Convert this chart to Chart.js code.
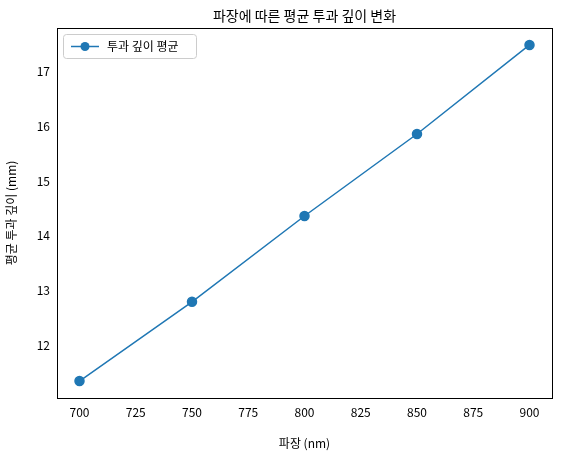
<!DOCTYPE html>
<html><head><meta charset="utf-8">
<script src="https://cdn.jsdelivr.net/npm/chart.js@4/dist/chart.umd.min.js"></script>
<style>html,body{margin:0;background:#fff}#w{width:561px;height:455px}</style>
</head><body><div id="w"><canvas id="c"></canvas></div>
<script>
const wavelengths=[700,750,800,850,900];
const depths=[11.34,12.79,14.36,15.86,17.49];
const xTicks=[700,725,750,775,800,825,850,875,900];
const yTicks=[12,13,14,15,16,17];
const seriesLabel='투과 깊이 평균';
const chartTitle='파장에 따른 평균 투과 깊이 변화';
const F="'Noto Sans CJK KR','Noto Sans',sans-serif";
Chart.defaults.font.family=F;Chart.defaults.color='#000';
const deco={id:'deco',afterDraw(c){
 const x=c.ctx,a=c.chartArea;x.save();
 x.strokeStyle='#000';x.lineWidth=1;x.strokeRect(a.left+0.5,a.top+0.5,a.right-a.left,a.bottom-a.top);
 x.font='14px '+F;x.fillStyle='#000';x.textAlign='center';x.textBaseline='middle';
 x.fillText(chartTitle,(a.left+a.right)/2,16);
 // legend
 const lx=a.left+6,ly=a.top+6,w=133,h=24;
 x.strokeStyle='#ccc';x.fillStyle='rgba(255,255,255,0.8)';
 x.beginPath();x.roundRect(lx+0.5,ly+0.5,w,h,3);x.fill();x.stroke();
 const cy=ly+h/2+0.5;
 x.strokeStyle='#1f77b4';x.lineWidth=1.5;x.beginPath();x.moveTo(lx+8,cy);x.lineTo(lx+36,cy);x.stroke();
 x.fillStyle='#1f77b4';x.beginPath();x.arc(lx+22,cy,4.5,0,Math.PI*2);x.fill();
 x.fillStyle='#000';x.textAlign='left';x.font='12px '+F;x.fillText(seriesLabel,lx+44,cy);
 x.restore();}};
new Chart(document.getElementById('c'),{
type:'line',
data:{datasets:[{label:seriesLabel,data:wavelengths.map((x,i)=>({x,y:depths[i]})),
borderColor:'#1f77b4',backgroundColor:'#1f77b4',borderWidth:1.5,pointRadius:4.5,pointHoverRadius:4.5}]},
options:{responsive:true,maintainAspectRatio:false,animation:false,
layout:{padding:{left:0,right:9,top:28,bottom:0}},
plugins:{title:{display:false},legend:{display:false},tooltip:{enabled:false}},
scales:{
x:{type:'linear',min:690,max:910,afterBuildTicks:a=>{a.ticks=xTicks.map(v=>({value:v}))},
 afterFit:s=>{s.height=57},
 grid:{display:false,tickLength:4,tickColor:'#000'},border:{color:'#000'},
 ticks:{font:{size:12}},title:{display:true,text:'파장 (nm)',font:{size:12},padding:{top:2}}},
y:{min:11.03,max:17.8,afterBuildTicks:a=>{a.ticks=yTicks.map(v=>({value:v}))},
 afterFit:s=>{s.width=57},
 grid:{display:false,tickLength:4,tickColor:'#000'},border:{color:'#000'},
 ticks:{font:{size:12}},title:{display:true,text:'평균 투과 깊이 (mm)',font:{size:12}}}
}},
plugins:[deco]
});
</script></body></html>
